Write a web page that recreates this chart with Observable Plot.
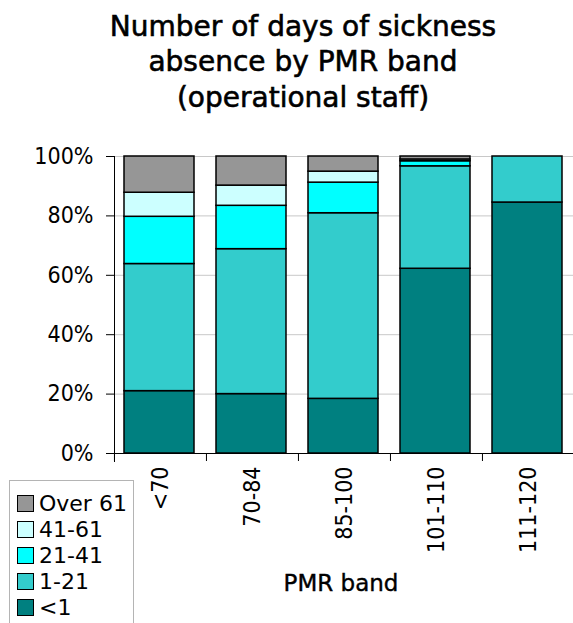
<!DOCTYPE html>
<html>
<head>
<meta charset="utf-8">
<script src="https://cdn.jsdelivr.net/npm/d3@7"></script>
<script src="https://cdn.jsdelivr.net/npm/@observablehq/plot@0.6"></script>
<style>
  body { margin: 0; background: #fff; }
  #wrap { position: relative; width: 573px; height: 623px; overflow: hidden;
          font-family: "DejaVu Sans", sans-serif; color: #000; }
  #chart { position: absolute; left: 0; top: 0; }
  .title { position: absolute; left: 0; top: 8.6px; width: 606px; text-align: center;
           font-size: 28px; font-weight: normal; line-height: 35.5px; -webkit-text-stroke: 0.6px #000; }
  .xlabel { position: absolute; left: 0; top: 567.6px; width: 682px; text-align: center;
            font-size: 23px; font-weight: normal; line-height: 30px; -webkit-text-stroke: 0.4px #000; }
  .legend { position: absolute; left: 9px; top: 480px; width: 125px; height: 170px;
            border: 1px solid #b4b4b4; box-sizing: border-box; background: #fff; }
  .row { position: absolute; left: 0; height: 26px; display: flex; align-items: center; font-size: 22px; }
  .sw { width: 15px; height: 15px; border: 1.5px solid #000; margin-left: 7px; margin-right: 5px; box-sizing: content-box; }
</style>
</head>
<body>
<div id="wrap">
  <div id="chart"></div>
  <div class="title">Number of days of sickness<br>absence by PMR band<br>(operational staff)</div>
  <div class="xlabel">PMR band</div>
  <div class="legend" id="legend"></div>
</div>
<script>
const categories = ["<70", "70-84", "85-100", "101-110", "111-120"];
const series = ["<1", "1-21", "21-41", "41-61", "Over 61"];
const colors = ["#008080", "#33CCCC", "#00FFFF", "#CCFFFF", "#969696"];
const lt1    = [21.0, 20.0, 18.4, 62.2, 84.5];
const d1_21  = [42.8, 48.8, 62.5, 34.5, 15.5];
const d21_41 = [15.9, 14.6, 10.3, 1.7, 0];
const d41_61 = [8.1, 6.8, 3.7, 0.6, 0];
const over61 = [12.2, 9.8, 5.1, 1.0, 0];
const yTicks = [0, 20, 40, 60, 80, 100];

const seriesValues = [lt1, d1_21, d21_41, d41_61, over61];
const table = [];
series.forEach((s, si) => {
  categories.forEach((c, ci) => {
    table.push({band: c, series: s, value: seriesValues[si][ci]});
  });
});

const font = '"DejaVu Sans Condensed", "DejaVu Sans", sans-serif';

const chart = Plot.plot({
  width: 573,
  height: 623,
  marginLeft: 114,
  marginRight: 0,
  marginTop: 156,
  marginBottom: 170,
  x: {domain: categories, range: [114.3, 574.5], padding: 0, label: null},
  y: {domain: [0, 100], label: null},
  color: {domain: series, range: colors},
  style: {fontFamily: font, fontSize: "23px", color: "#000", background: "transparent", overflow: "visible"},
  marks: [
    Plot.gridY(yTicks.filter(d => d > 0), {stroke: "#c8c8c8", strokeOpacity: 1, strokeWidth: 1}),
    Plot.barY(table.filter(d => d.value > 0), {
      x: "band", y: "value", fill: "series", stroke: "#000", strokeWidth: 1.5,
      insetLeft: 10, insetRight: 12
    }),
    Plot.ruleY([0], {stroke: "#000", strokeWidth: 1}),
    Plot.frame({anchor: "left", stroke: "#000", insetBottom: -8}),
    Plot.axisY(yTicks, {tickSize: 8, tickPadding: 13, tickFormat: d => d + "%", label: null, stroke: "#000", strokeOpacity: 1}),
    Plot.axisX({tickSize: 0, tickPadding: 13, tickRotate: -90, label: null}),
    Plot.axisX({tickSize: 8, tickFormat: () => "", dx: -46.04, label: null, stroke: "#000", strokeOpacity: 1})
  ]
});
document.getElementById("chart").appendChild(chart);

const legend = document.getElementById("legend");
const order = series.slice().reverse();
const orderColors = colors.slice().reverse();
order.forEach((s, i) => {
  const row = document.createElement("div");
  row.className = "row";
  row.style.top = (9 + 26.2 * i) + "px";
  const sw = document.createElement("div");
  sw.className = "sw";
  sw.style.background = orderColors[i];
  const t = document.createElement("span");
  t.textContent = s;
  row.appendChild(sw);
  row.appendChild(t);
  legend.appendChild(row);
});
</script>
</body>
</html>
